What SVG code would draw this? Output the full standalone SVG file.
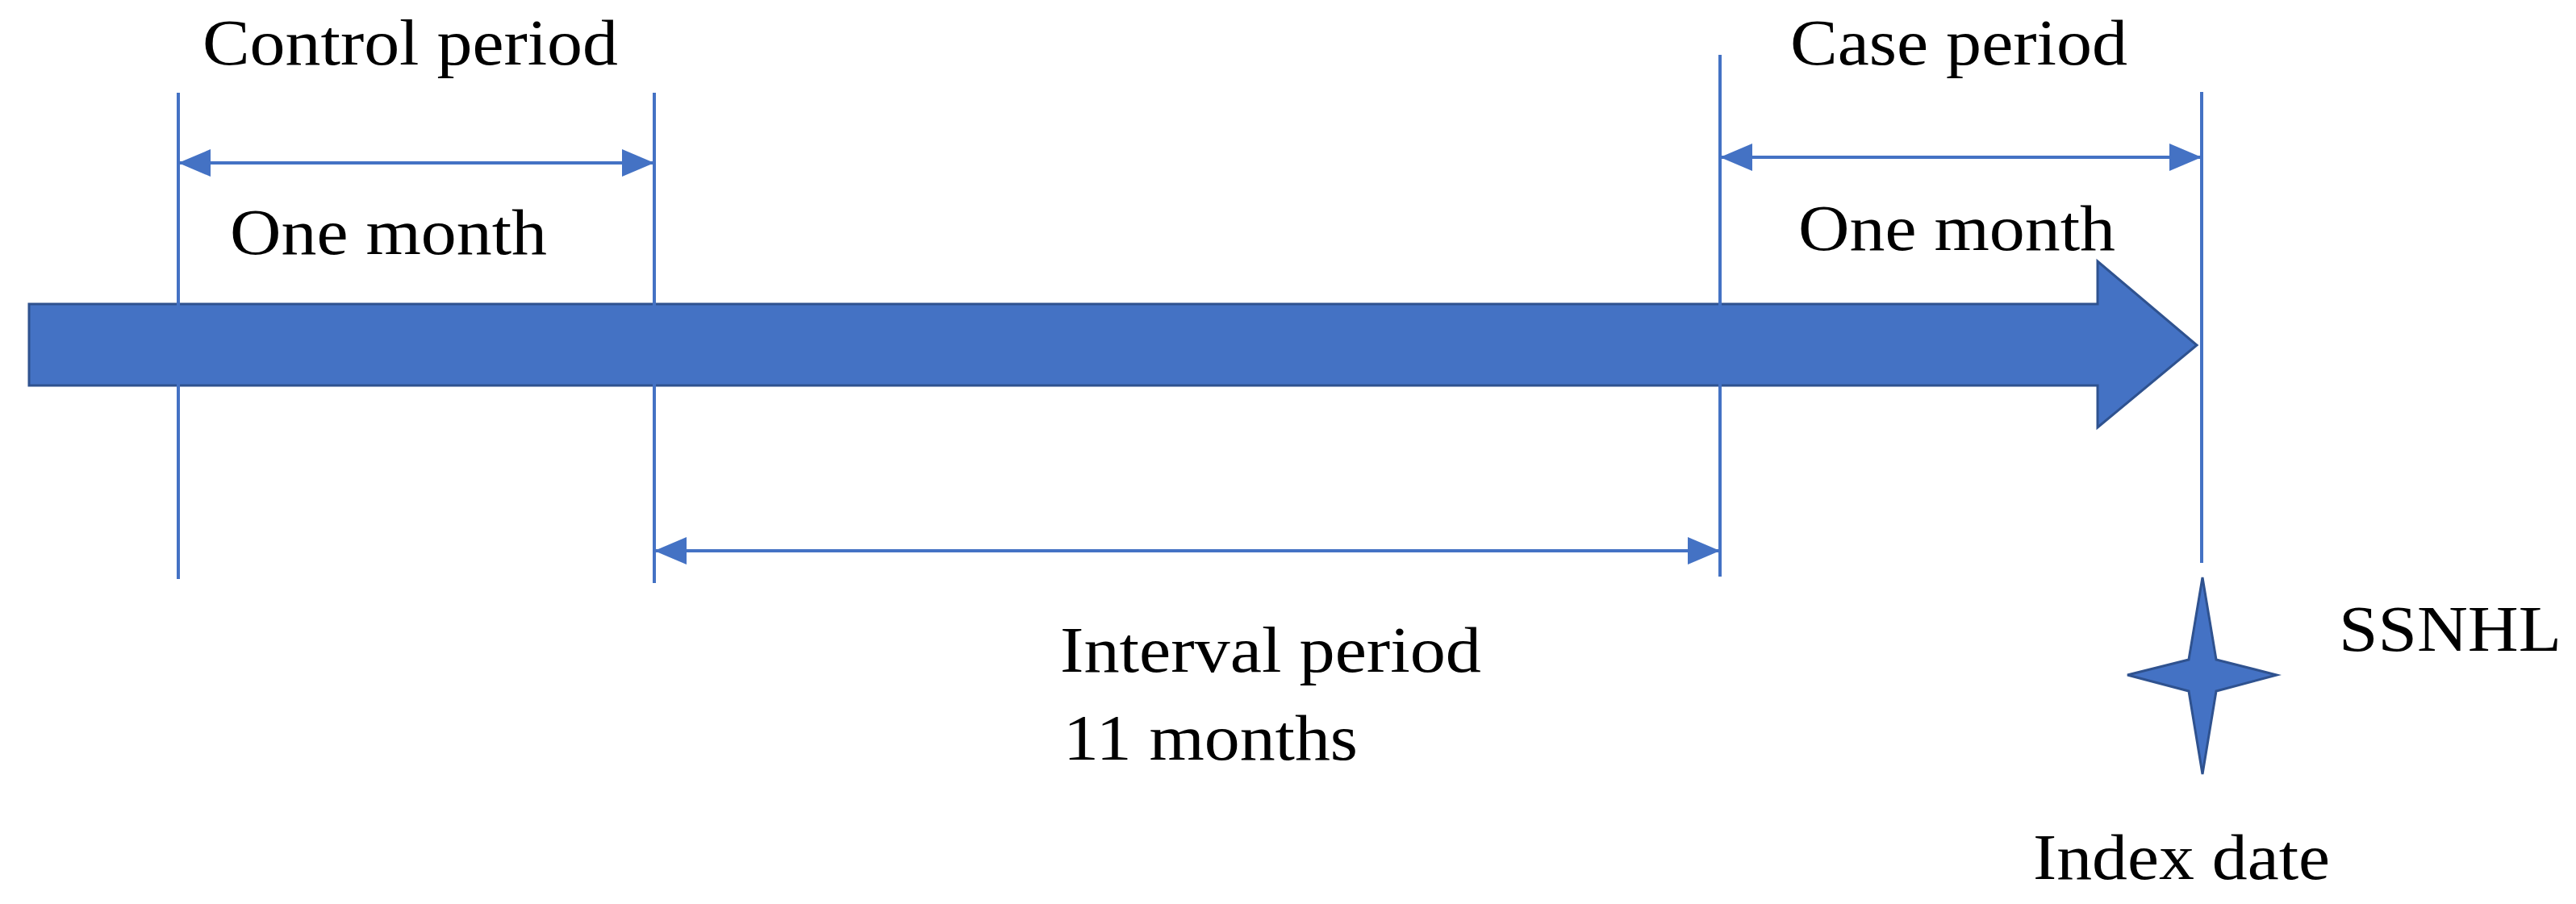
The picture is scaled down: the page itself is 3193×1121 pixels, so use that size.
<svg xmlns="http://www.w3.org/2000/svg" width="3193" height="1121" viewBox="0 0 3193 1121">
<style>
.t{font-family:"Liberation Serif","Times New Roman",serif;font-size:80px;fill:#000}
.v{stroke:#4472C4;stroke-width:4;fill:none}
.d{stroke:#4472C4;stroke-width:4;fill:none;marker-start:url(#ah);marker-end:url(#ah)}
.shape{fill:#4472C4;stroke:#2F528F;stroke-width:3}
</style>
<defs>
<marker id="ah" markerUnits="userSpaceOnUse" markerWidth="42" markerHeight="36" refX="40" refY="17" orient="auto-start-reverse">
<path d="M0,0 L40,17 L0,34 z" fill="#4472C4"/>
</marker>
</defs>
<rect width="3193" height="1121" fill="#fff"/>
<g id="timeline">
<path class="shape" d="M36,377 L2600,377 L2600,324 L2723,428 L2600,530 L2600,478 L36,478 z"/>
</g>
<g id="connectors">
<line class="v" x1="221" y1="115" x2="221" y2="718"/>
<line class="v" x1="811" y1="115" x2="811" y2="723"/>
<line class="v" x1="2132" y1="68" x2="2132" y2="715"/>
<line class="v" x1="2729" y1="114" x2="2729" y2="698"/>
<line class="d" x1="221" y1="202" x2="811" y2="202"/>
<line class="d" x1="2132" y1="195" x2="2729" y2="195"/>
<line class="d" x1="811" y1="683" x2="2132" y2="683"/>
</g>
<g id="control-period">
<text class="t" x="251" y="80" textLength="515" lengthAdjust="spacingAndGlyphs">Control period</text>
<text class="t" x="285" y="315" textLength="393" lengthAdjust="spacingAndGlyphs">One month</text>
</g>
<g id="case-period">
<text class="t" x="2219" y="80" textLength="418" lengthAdjust="spacingAndGlyphs">Case period</text>
<text class="t" x="2229" y="310" textLength="393" lengthAdjust="spacingAndGlyphs">One month</text>
</g>
<g id="interval-period">
<text class="t" x="1314" y="833" textLength="522" lengthAdjust="spacingAndGlyphs">Interval period</text>
<text class="t" x="1318" y="942" textLength="365" lengthAdjust="spacingAndGlyphs">11 months</text>
</g>
<g id="ssnhl">
<path class="shape" d="M2730,716 L2747,818 L2822,837 L2747,857 L2730,960 L2713,857 L2637,837 L2713,818 z"/>
<text class="t" x="2899" y="807" textLength="276" lengthAdjust="spacingAndGlyphs">SSNHL</text>
</g>
<g id="index-date">
<text class="t" x="2520" y="1090" textLength="368" lengthAdjust="spacingAndGlyphs">Index date</text>
</g>
</svg>
